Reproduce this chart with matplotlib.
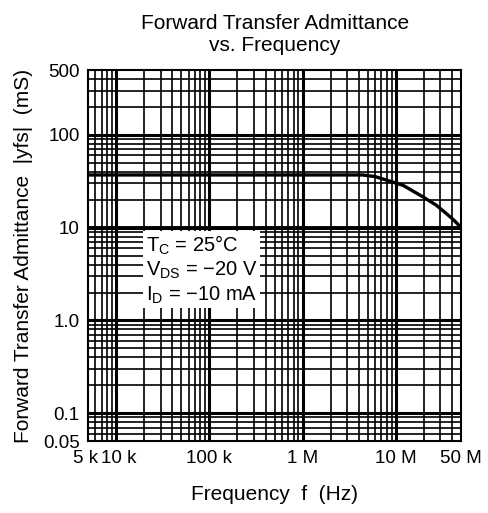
import numpy as np
import matplotlib.pyplot as plt
import matplotlib.transforms as mtransforms
from matplotlib.ticker import FixedLocator, NullFormatter

plt.rcParams['font.family'] = ['Liberation Sans', 'DejaVu Sans']
plt.rcParams['mathtext.fontset'] = 'custom'
plt.rcParams['mathtext.rm'] = 'Liberation Sans'

# curve
freq = [5e3, 1e5, 1e6, 4.4e6, 6e6, 8.7e6, 12e6, 19.6e6, 27e6, 35e6, 42e6, 50e6]
yfs = [37, 37, 37, 37, 35.5, 31.6, 28.5, 21.4, 17.5, 14.1, 12, 10]

xticks = [5e3, 1e4, 1e5, 1e6, 1e7, 5e7]
xlabels = ["5 k", "10 k", "100 k", "1 M", "10 M", "50 M"]
yticks = [0.05, 0.1, 1, 10, 100, 500]
ylabels = ["0.05", "0.1", "1.0", "10", "100", "500"]

fig = plt.figure(figsize=(4.89, 5.13), dpi=100)
ax = fig.add_axes([0.18, 0.140, 0.763, 0.7235])
ax.set_xscale("log")
ax.set_yscale("log")
ax.set_xlim(5e3, 5e7)
ax.set_ylim(0.05, 500)

# grid lines at every 1..9 step
xminor = [m * 10**e for e in range(3, 8) for m in range(2, 10) if 5e3 <= m * 10**e <= 5e7]
yminor = [m * 10**e for e in range(-2, 3) for m in range(2, 10) if 0.05 <= m * 10**e <= 500]
for x in xminor:
    ax.axvline(x, color="black", lw=1.2, zorder=1)
for y in yminor:
    ax.axhline(y, color="black", lw=1.2, zorder=1)
for x in [1e4, 1e5, 1e6, 1e7]:
    ax.axvline(x, color="black", lw=2.2, zorder=1)
for y in [0.1, 1, 10, 100]:
    ax.axhline(y, color="black", lw=2.2, zorder=1)
ax.axhline(10, color="black", lw=2.8, zorder=1)

ax.plot(freq, yfs, color="black", lw=2.4, zorder=3)

ax.xaxis.set_major_locator(FixedLocator(xticks))
ax.set_xticklabels(xlabels)
ax.xaxis.set_minor_formatter(NullFormatter())
ax.xaxis.set_minor_locator(FixedLocator([]))
ax.yaxis.set_major_locator(FixedLocator(yticks))
ax.set_yticklabels(ylabels)
ax.yaxis.set_minor_formatter(NullFormatter())
ax.yaxis.set_minor_locator(FixedLocator([]))
ax.tick_params(length=0, labelsize=13.5, pad=6)
for s in ax.spines.values():
    s.set_linewidth(1.5)

# nudge the crowded "5 k" / "10 k" labels apart
tl = ax.get_xticklabels()
tl[0].set_transform(tl[0].get_transform() + mtransforms.ScaledTranslation(-2 / 100, 0, fig.dpi_scale_trans))
tl[1].set_transform(tl[1].get_transform() + mtransforms.ScaledTranslation(3 / 100, 0, fig.dpi_scale_trans))

ax.set_xlabel("Frequency  f  (Hz)", fontsize=15, labelpad=13)
ax.set_ylabel("Forward Transfer Admittance  |yfs|  (mS)", fontsize=15, labelpad=7)
ax.set_title("Forward Transfer Admittance\nvs. Frequency", fontsize=15, pad=14, linespacing=1.15)

ax.text(0.155, 0.56,
        "T$_\\mathregular{C}$ = 25°C\nV$_\\mathregular{DS}$ = \u221220 V\nI$_\\mathregular{D}$ = \u221210 mA",
        transform=ax.transAxes, fontsize=14.5, va="top", ha="left", linespacing=1.2,
        bbox=dict(facecolor="white", edgecolor="none", pad=2), zorder=4)

fig.savefig("out.png", dpi=100)
